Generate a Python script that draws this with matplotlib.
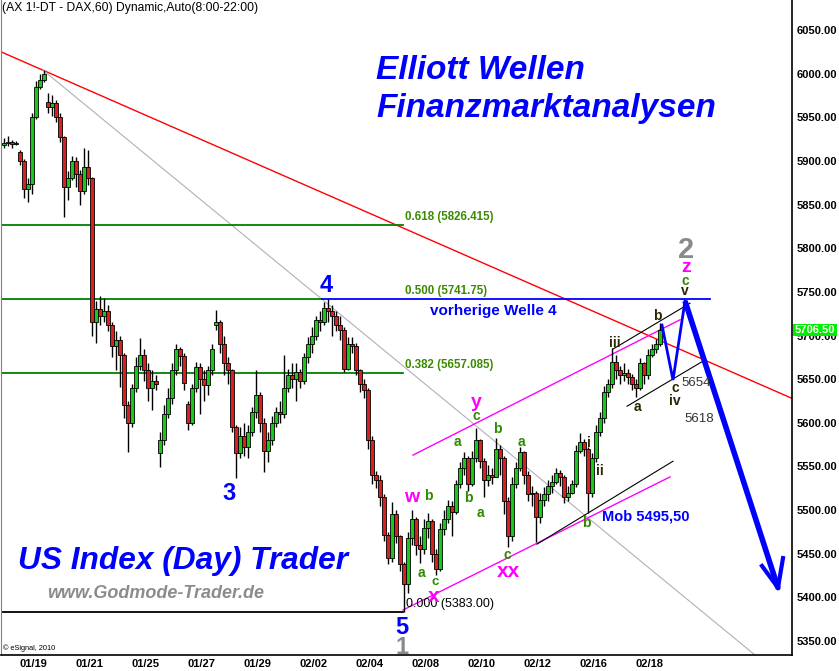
import matplotlib
matplotlib.use("Agg")
import matplotlib.pyplot as plt
import numpy as np

FONT = ['Liberation Sans', 'DejaVu Sans']
plt.rcParams['font.family'] = FONT

# ---------------- data (2-hour bars of DAX future) ----------------
closes = [
    5920, 5922, 5919, 5921, 5900, 5868, 5874, 5950, 5985, 5993,
    6000, 5962, 5966, 5950, 5927, 5870, 5880, 5900, 5885, 5866,
    5893, 5880, 5715, 5730, 5722, 5728, 5712, 5688, 5695, 5678,
    5620, 5600, 5640, 5665, 5678, 5660, 5640, 5648, 5645, 5580,
    5610, 5628, 5660, 5685, 5676, 5646, 5600, 5640, 5664, 5650,
    5643, 5660, 5685, 5716, 5690, 5668, 5660, 5595, 5565, 5585,
    5572, 5590, 5612, 5632, 5600, 5568, 5580, 5600, 5612, 5610,
    5640, 5655, 5650, 5658, 5648, 5675, 5690, 5700, 5718, 5715,
    5732, 5728, 5722, 5712, 5706, 5662, 5690, 5688, 5660, 5645,
    5638, 5580, 5540, 5535, 5515, 5472, 5445, 5495, 5470, 5438,
    5415, 5468, 5490, 5460, 5455, 5480, 5488, 5450, 5432, 5478,
    5490, 5505, 5498, 5530, 5548, 5560, 5530, 5560, 5580, 5556,
    5535, 5540, 5538, 5570, 5560, 5510, 5470, 5530, 5548, 5566,
    5540, 5518, 5520, 5492, 5512, 5518, 5528, 5532, 5542, 5538,
    5515, 5520, 5530, 5568, 5578, 5570, 5520, 5560, 5590, 5605,
    5635, 5645, 5670, 5660, 5655, 5657, 5652, 5645, 5640, 5668,
    5655, 5678, 5684, 5690, 5706.5]

highs = [
    5926, 5928, 5924, 5923, 5912, 5902, 5880, 5955, 5992, 6000,
    6004, 5978, 5975, 5970, 5955, 5928, 5888, 5906, 5905, 5890,
    5915, 5912, 5882, 5740, 5745, 5743, 5735, 5715, 5705, 5700,
    5680, 5625, 5645, 5675, 5697, 5685, 5668, 5660, 5655, 5590,
    5620, 5640, 5668, 5690, 5687, 5680, 5625, 5645, 5670, 5668,
    5660, 5665, 5690, 5729, 5718, 5700, 5675, 5662, 5598, 5595,
    5600, 5598, 5618, 5660, 5635, 5605, 5590, 5608, 5618, 5625,
    5678, 5662, 5668, 5668, 5662, 5680, 5698, 5710, 5722, 5728,
    5738, 5742, 5735, 5728, 5722, 5710, 5698, 5698, 5692, 5662,
    5650, 5640, 5585, 5545, 5540, 5518, 5475, 5509, 5500, 5472,
    5440, 5475, 5500, 5492, 5470, 5490, 5497, 5490, 5456, 5485,
    5500, 5512, 5510, 5535, 5555, 5566, 5562, 5568, 5594, 5582,
    5560, 5552, 5548, 5583, 5575, 5562, 5515, 5538, 5555, 5572,
    5568, 5545, 5528, 5522, 5520, 5526, 5535, 5540, 5548, 5546,
    5540, 5528, 5535, 5575, 5588, 5582, 5572, 5565, 5598, 5612,
    5642, 5650, 5686, 5678, 5665, 5668, 5662, 5656, 5650, 5674,
    5670, 5684, 5690, 5696, 5714]

lows = [
    5915, 5917, 5915, 5918, 5895, 5858, 5853, 5862, 5948, 5982,
    5990, 5955, 5952, 5945, 5922, 5836, 5855, 5878, 5870, 5849,
    5862, 5872, 5700, 5691, 5712, 5715, 5705, 5675, 5660, 5641,
    5605, 5566, 5595, 5635, 5660, 5648, 5625, 5615, 5638, 5549,
    5575, 5605, 5622, 5655, 5665, 5638, 5592, 5598, 5635, 5610,
    5625, 5632, 5655, 5706, 5680, 5655, 5645, 5590, 5537, 5560,
    5562, 5560, 5585, 5605, 5590, 5544, 5555, 5575, 5595, 5600,
    5605, 5635, 5640, 5625, 5640, 5645, 5668, 5680, 5695, 5705,
    5712, 5715, 5700, 5705, 5695, 5658, 5660, 5680, 5655, 5635,
    5628, 5570, 5530, 5525, 5505, 5465, 5438, 5440, 5462, 5430,
    5383, 5405, 5460, 5448, 5439, 5450, 5468, 5440, 5426, 5430,
    5472, 5485, 5470, 5495, 5525, 5540, 5522, 5528, 5555, 5548,
    5515, 5528, 5530, 5545, 5540, 5495, 5458, 5465, 5525, 5545,
    5530, 5510, 5505, 5463, 5485, 5505, 5510, 5520, 5530, 5528,
    5508, 5510, 5518, 5526, 5565, 5562, 5497, 5515, 5555, 5585,
    5600, 5630, 5640, 5650, 5645, 5648, 5645, 5638, 5630, 5638,
    5645, 5650, 5675, 5680, 5688]

# opens equal the previous close except at these (gap) bars
gap_opens = {0: 5918, 4: 5910, 11: 5968, 39: 5565, 46: 5622, 53: 5712}

date_labels = ['01/19', '01/21', '01/25', '01/27', '01/29', '02/02',
               '02/04', '02/08', '02/10', '02/12', '02/16', '02/18']
bars_per_label = 14          # two trading days of 2-hour bars
first_label_bar = 7.3
price_ticks = list(range(5350, 6051, 50))

fib_ratios = ['0.618', '0.500', '0.382', '0.000']
fib_prices = [5826.415, 5741.75, 5657.085, 5383.00]
last_price = 5706.50

# trend / channel lines as (bar index pair, price pair)
red_trend = ([-0.75, 197.0], [6025.0, 5628.0])
gray_trend = ([9.75, 187.75], [6004.0, 5334.0])
magenta_upper = ([102.25, 169.0], [5563.0, 5718.0])
magenta_lower = ([99.75, 166.5], [5385.5, 5538.0])
black_long = ([133.25, 167.25], [5461.0, 5556.0])
black_upper = ([152.25, 171.5], [5684.5, 5737.0])
black_lower = ([155.75, 175.25], [5619.0, 5672.0])
blue_zigzag = ([164.5, 167.25, 170.25], [5712.0, 5649.0, 5739.5])
blue_drop = ([170.25, 193.5], [5739.5, 5411.0])
arrow_wing_l = ([189.5, 193.5], [5436.0, 5411.0])
arrow_wing_r = ([193.5, 194.75], [5411.0, 5445.0])

# ---------------- figure ----------------
W, H = 839, 671
fig = plt.figure(figsize=(W / 100, H / 100), dpi=100)
ax = fig.add_axes([1 / W, 16 / H, 791 / W, 655 / H])
X0, X1 = -0.75, 197.0
Y0, Y1 = 5334.0, 6084.37
ax.set_xlim(X0, X1)
ax.set_ylim(Y0, Y1)


def px(x, y):
    """reference pixel -> data coordinates (for label placement)"""
    u = X0 + (x - 1) / 791 * (X1 - X0)
    p = Y1 - y / 655 * (Y1 - Y0)
    return u, p


# candles
n = len(closes)
idx = np.arange(n)
opens = [gap_opens.get(i, closes[i - 1] if i > 0 else closes[0]) for i in range(n)]
o = np.array(opens, float)
c = np.array(closes, float)
hi = np.maximum(np.array(highs, float), np.maximum(o, c))
lo = np.minimum(np.array(lows, float), np.minimum(o, c))
ax.vlines(idx, lo, hi, color='black', lw=1.0, zorder=3)
bottoms = np.minimum(o, c)
heights = np.maximum(np.abs(c - o), 1.0)
colors = ['#19c819' if cc >= oo else '#d82020' for oo, cc in zip(o, c)]
ax.bar(idx, heights, bottom=bottoms, width=0.8, color=colors,
       edgecolor='black', linewidth=0.6, zorder=4)

# trend lines
ax.plot(*red_trend, color='#ff0000', lw=1.0, zorder=2)
ax.plot(*gray_trend, color='#b4aebb', lw=0.8, zorder=2)
ax.plot(*magenta_upper, color='#ff00ff', lw=1.0, zorder=2)
ax.plot(*magenta_lower, color='#ff00ff', lw=1.0, zorder=2)
for ln in (black_long, black_upper, black_lower):
    ax.plot(*ln, color='black', lw=0.8, zorder=2)

# fibonacci levels
fib_end = px(403, 0)[0]
blue_split = px(322, 0)[0]
blue_end = px(710, 0)[0]
for r, fp in zip(fib_ratios, fib_prices):
    if r == '0.000':
        ax.plot([X0, fib_end], [fp, fp], color='black', lw=1.3, zorder=2)
        ax.text(px(406, 0)[0], fp + 9, f"{r} ({fp:.2f})", fontsize=9,
                color='black', va='center', ha='left', zorder=6)
    else:
        if r == '0.500':
            ax.plot([X0, blue_split], [fp, fp], color='#008000', lw=1.3, zorder=2)
            ax.plot([blue_split, blue_end], [fp, fp], color='#0000ff', lw=1.3, zorder=2)
        else:
            ax.plot([X0, fib_end], [fp, fp], color='#008000', lw=1.3, zorder=2)
        ax.text(px(405, 0)[0], fp + 9, f"{r} ({fp})", fontsize=8.3,
                fontweight='bold', color='#3a8a00', va='center', ha='left', zorder=6)

# projected path
ax.plot(*blue_zigzag, color='#0000ff', lw=2.0, zorder=5, solid_joinstyle='miter')
ax.plot(*blue_drop, color='#0000ff', lw=4.0, zorder=5, solid_capstyle='butt')
ax.plot(*arrow_wing_l, color='#0000ff', lw=3.0, zorder=5)
ax.plot(*arrow_wing_r, color='#0000ff', lw=3.0, zorder=5)

# ---------------- texts ----------------
def t(s, x, y, color, size, weight='bold', style='normal', ha='center'):
    u, p = px(x, y)
    ax.text(u, p, s, color=color, fontsize=size, fontweight=weight,
            fontstyle=style, ha=ha, va='center', zorder=7)

BLUE = '#0000ff'
MAG = '#ff00ff'
GRN = '#2e8a00'
DARK = '#2a2600'
GRAY = '#8a8a8a'

t("(AX 1!-DT - DAX,60) Dynamic,Auto(8:00-22:00)", 2, 8, 'black', 8.7,
  weight='normal', ha='left')
t("Elliott Wellen", 376, 70, BLUE, 24, style='italic', ha='left')
t("Finanzmarktanalysen", 376, 109, BLUE, 24, style='italic', ha='left')
t("US Index (Day) Trader", 18, 561, BLUE, 22.8, style='italic', ha='left')
t("www.Godmode-Trader.de", 47, 594, '#8c8c8c', 13, style='italic', ha='left')
t("\u00a9 eSignal, 2010", 3, 648, 'black', 5.3, weight='normal', ha='left')
t("vorherige Welle 4", 430, 311, BLUE, 11, ha='left')
t("Mob 5495,50", 602, 516, BLUE, 10.5, ha='left')
t("5654", 681, 383, '#333333', 9.5, weight='normal', ha='left')
t("5618", 684, 419, '#333333', 9.5, weight='normal', ha='left')

wave_labels = [
    ("4", 326, 286, BLUE, 17), ("3", 229, 493, BLUE, 17),
    ("5", 402, 627, BLUE, 17), ("1", 402, 647, GRAY, 17),
    ("2", 686, 250, GRAY, 21), ("z", 686, 268, MAG, 14),
    ("c", 685, 281, GRN, 10), ("v", 685, 291, DARK, 10),
    ("w", 412, 497, MAG, 14), ("b", 428, 496, GRN, 10),
    ("a", 421, 573, GRN, 10), ("c", 435, 582, GRN, 9.5),
    ("x", 434, 596, MAG, 15), ("y", 476, 402, MAG, 14),
    ("c", 476, 416, GRN, 10), ("a", 457, 442, GRN, 10),
    ("b", 468, 498, GRN, 10), ("a", 480, 513, GRN, 10),
    ("b", 497, 429, GRN, 10), ("a", 521, 442, GRN, 10),
    ("c", 507, 555, GRN, 10), ("xx", 508, 571, MAG, 15),
    ("b", 586, 523, GRN, 10), ("i", 589, 443, DARK, 10),
    ("ii", 600, 471, DARK, 10), ("iii", 615, 343, DARK, 10),
    ("a", 637, 407, DARK, 10), ("b", 657, 316, DARK, 10),
    ("c", 675, 388, DARK, 10), ("iv", 675, 401, DARK, 10),
]
for s, x, y, col, sz in wave_labels:
    t(s, x, y, col, sz)

# ---------------- axes styling ----------------
ax.spines['top'].set_visible(False)
ax.spines['left'].set_color('#808080')
ax.spines['left'].set_linewidth(0.8)
for s in ('right', 'bottom'):
    ax.spines[s].set_color('black')
    ax.spines[s].set_linewidth(1.2)

ax.yaxis.tick_right()
ax.set_yticks(price_ticks)
ax.set_yticklabels([f"{v:.2f}" for v in price_ticks], fontsize=8, fontweight='bold')
ax.tick_params(axis='y', length=0, pad=3)
ax.set_xticks([first_label_bar + bars_per_label * k for k in range(len(date_labels))])
ax.set_xticklabels(date_labels, fontsize=8, fontweight='bold')
ax.tick_params(axis='x', length=0, pad=3)

# last price tag
ax.text(1.0035, last_price, f"{last_price:.2f}", transform=ax.get_yaxis_transform(),
        fontsize=8, fontweight='bold', color='white', ha='left', va='center',
        bbox=dict(boxstyle='square,pad=0.12', facecolor='#00ee00', edgecolor='none'),
        zorder=8, clip_on=False)

fig.savefig("out.png", dpi=100, facecolor='white')
